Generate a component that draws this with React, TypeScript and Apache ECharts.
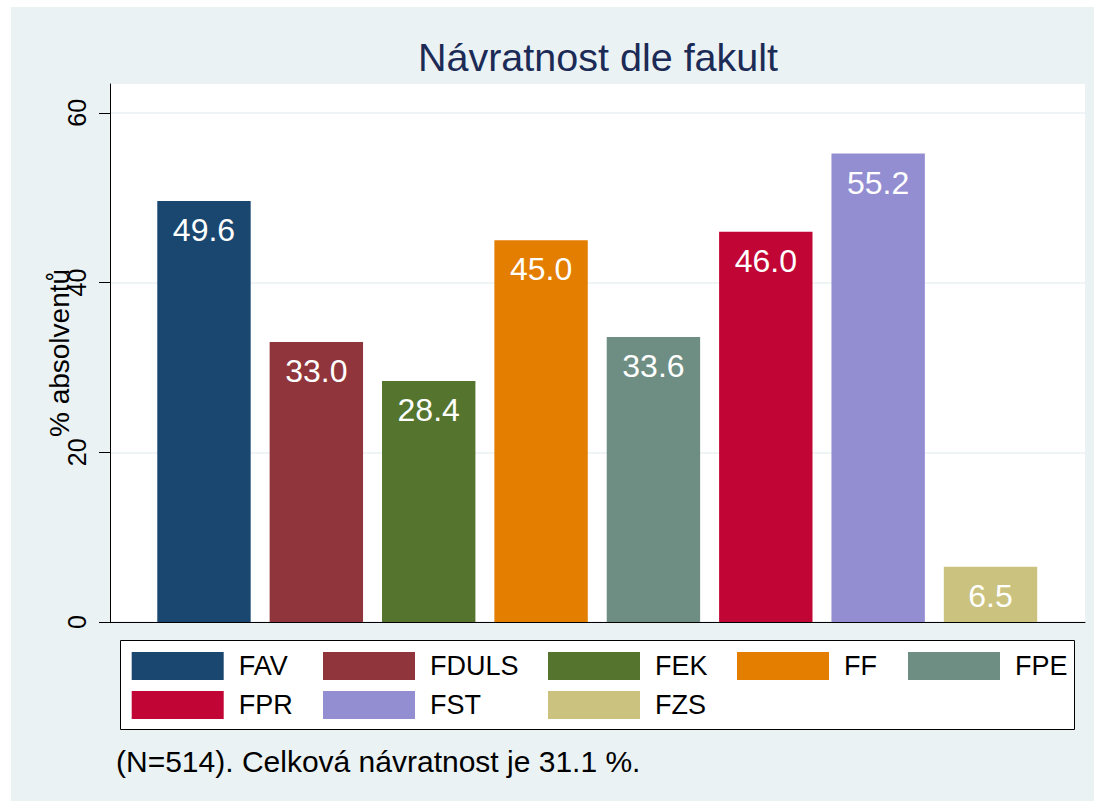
import React, { useEffect, useRef } from 'react';
import * as echarts from 'echarts';

const categories = ['FAV', 'FDULS', 'FEK', 'FF', 'FPE', 'FPR', 'FST', 'FZS'];
const values = [49.6, 33.0, 28.4, 45.0, 33.6, 46.0, 55.2, 6.5];
const yTicks = [0, 20, 40, 60];
const titleText = 'Návratnost dle fakult';
const yAxisTitle = '% absolventů';
const noteText = '(N=514). Celková návratnost je 31.1 %.';

const colors = ['#1a476f', '#90353b', '#55752f', '#e37e00', '#6e8e84', '#c10534', '#938dd2', '#cac27e'];
const legendColumns = [['FAV', 'FPR'], ['FDULS', 'FST'], ['FEK', 'FZS'], ['FF'], ['FPE']];
const legendLefts = [131.7, 323, 548, 737, 908];

const FONT = '"Liberation Sans", Arial, Helvetica, sans-serif';
const BG = '#eaf2f3';

export default function App() {
  const ref = useRef<HTMLDivElement>(null);
  useEffect(() => {
    document.body.style.margin = '0';
    const chart = echarts.init(ref.current!, null, { renderer: 'svg' });
    const yMax = 63.4;
    const option: any = {
      animation: false,
      backgroundColor: '#ffffff',
      title: {
        text: titleText,
        left: 598,
        top: 36.5,
        textAlign: 'center',
        padding: 0,
        textStyle: { fontSize: 39.5, fontWeight: 'normal', color: '#1c2b56', fontFamily: FONT },
      },
      grid: [
        { left: 110, top: 84, width: 975, height: 538, show: true, backgroundColor: '#ffffff', borderWidth: 0 },
        { left: 147.8, top: 84, width: 898.9, height: 538 },
      ],
      xAxis: [
        {
          type: 'value', gridIndex: 0, min: 0, max: 1,
          axisLine: { show: true, lineStyle: { color: '#000', width: 1 } },
          axisTick: { show: false }, axisLabel: { show: false }, splitLine: { show: false },
        },
        { type: 'category', gridIndex: 1, data: categories, show: false },
      ],
      yAxis: [
        {
          type: 'value', gridIndex: 0, min: 0, max: yMax, interval: 20,
          name: yAxisTitle, nameLocation: 'middle', nameGap: 37, nameMoveOverlap: false,
          nameTextStyle: { fontSize: 28, color: '#000', fontFamily: FONT },
          axisLine: { show: true, lineStyle: { color: '#000', width: 1 } },
          axisTick: { show: true, length: 11, customValues: yTicks, lineStyle: { color: '#000' } },
          axisLabel: { show: true, customValues: yTicks, rotate: 90, margin: 21, fontSize: 25, color: '#000', fontFamily: FONT },
          splitLine: { show: true, lineStyle: { color: BG, width: 1.5 } },
        },
        { type: 'value', gridIndex: 1, min: 0, max: yMax, show: false },
      ],
      legend: legendColumns.map((col, k) => ({
        orient: 'vertical',
        left: legendLefts[k],
        top: 652,
        padding: 0,
        itemWidth: 92,
        itemHeight: 28,
        itemGap: 11,
        icon: 'rect',
        selectedMode: false,
        data: col,
        textStyle: { fontSize: 27, color: '#000', fontFamily: FONT, padding: [0, 0, 0, 10] },
      })),
      graphic: [
        { type: 'rect', shape: { x: 11, y: 7, width: 1083, height: 794 }, style: { fill: BG }, z: -100 },
        { type: 'rect', shape: { x: 120.5, y: 640.5, width: 954, height: 89 }, style: { fill: '#fff', stroke: '#000', lineWidth: 1 }, z: 1 },
        { type: 'text', x: 116, y: 761, style: { text: noteText, fontSize: 30, fontFamily: FONT, fill: '#000', verticalAlign: 'middle', align: 'left' }, z: 2 },
      ],
      series: categories.map((name, i) => ({
        name,
        type: 'bar',
        xAxisIndex: 1,
        yAxisIndex: 1,
        data: values.map((v, j) => (j === i ? v : '-')),
        barWidth: 93.4,
        barGap: '-100%',
        itemStyle: { color: colors[i] },
        label: {
          show: true,
          position: 'insideTop',
          distance: 13,
          color: '#fff',
          fontSize: 32,
          fontFamily: FONT,
          formatter: (p: any) => Number(p.value).toFixed(1),
        },
      })),
    };
    chart.setOption(option);
    return () => chart.dispose();
  }, []);
  return <div ref={ref} style={{ width: 1094, height: 801 }} />;
}
